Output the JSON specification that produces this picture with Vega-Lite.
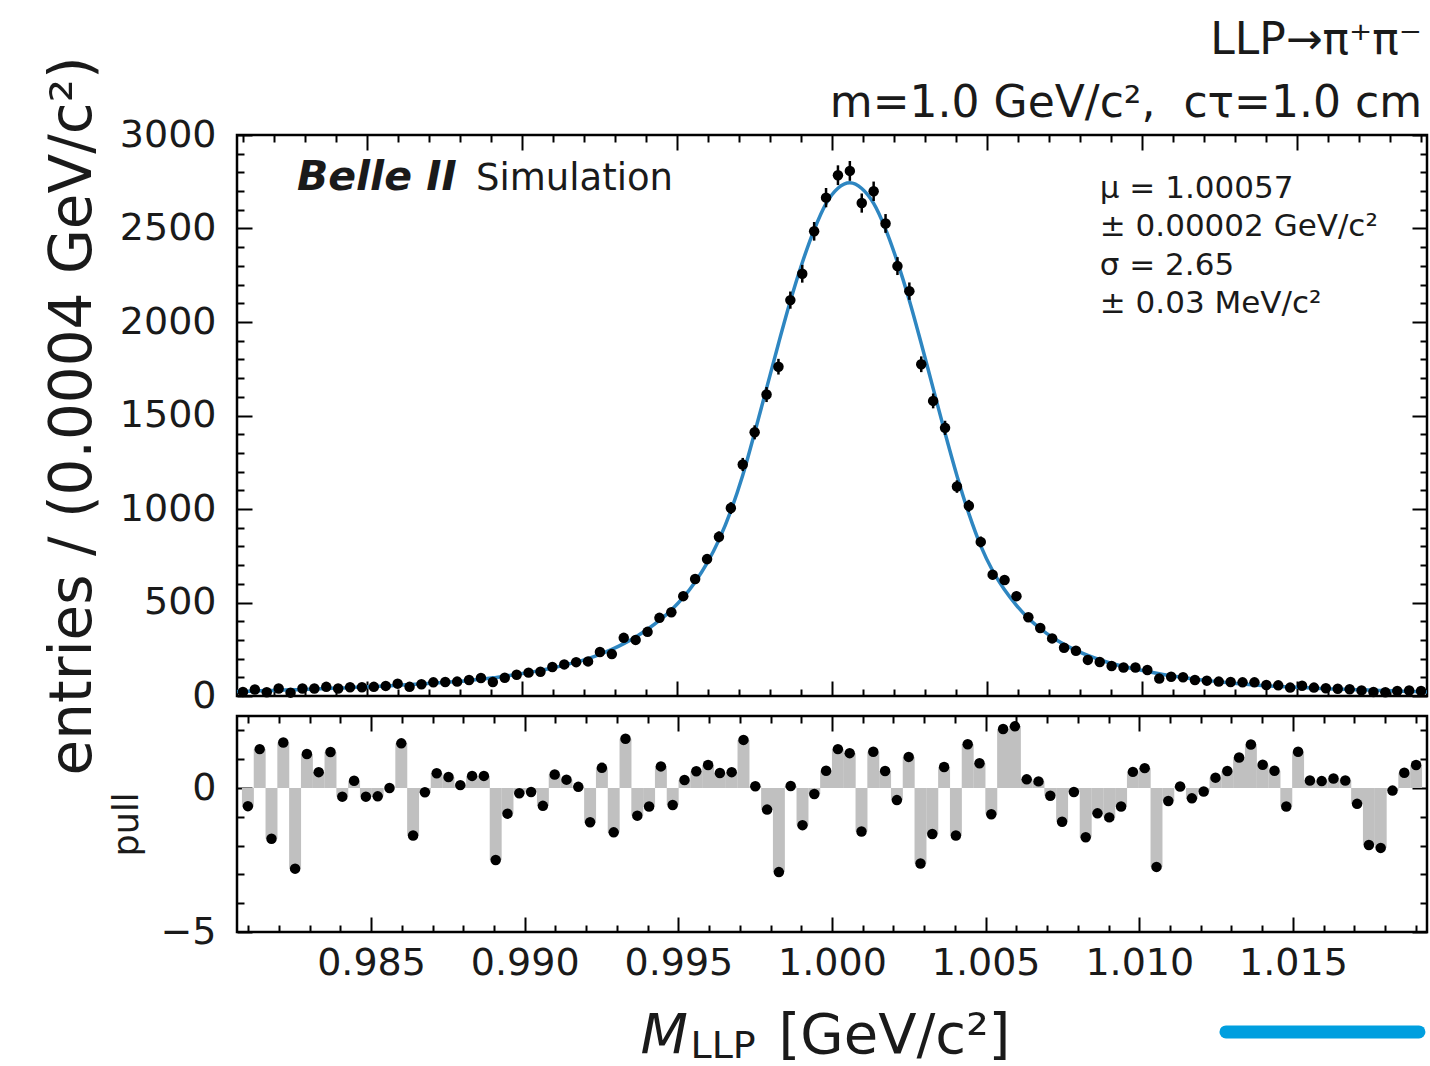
{
"$schema": "https://vega.github.io/schema/vega-lite/v6.json",
"padding": {"left": 42, "top": 17, "right": 0, "bottom": 0},
"background": "white",
"datasets": {
"hist": [
{"m":0.980992,"n":22,"err":4.7,"pull":-0.63},
{"m":0.981376,"n":35,"err":5.9,"pull":1.35},
{"m":0.98176,"n":20,"err":4.5,"pull":-1.76},
{"m":0.982144,"n":40,"err":6.3,"pull":1.58},
{"m":0.982528,"n":18,"err":4.2,"pull":-2.8},
{"m":0.982912,"n":40,"err":6.3,"pull":1.18},
{"m":0.983296,"n":40,"err":6.3,"pull":0.55},
{"m":0.98368,"n":49,"err":7,"pull":1.25},
{"m":0.984064,"n":40,"err":6.3,"pull":-0.3},
{"m":0.984448,"n":47,"err":6.9,"pull":0.25},
{"m":0.984832,"n":47,"err":6.9,"pull":-0.3},
{"m":0.985216,"n":49,"err":7,"pull":-0.29},
{"m":0.9856,"n":54,"err":7.3,"pull":0},
{"m":0.985984,"n":66,"err":8.1,"pull":1.55},
{"m":0.986368,"n":49,"err":7,"pull":-1.65},
{"m":0.986752,"n":63,"err":7.9,"pull":-0.15},
{"m":0.987136,"n":73,"err":8.5,"pull":0.51},
{"m":0.98752,"n":75,"err":8.7,"pull":0.38},
{"m":0.987904,"n":77,"err":8.8,"pull":0.1},
{"m":0.988288,"n":86,"err":9.3,"pull":0.42},
{"m":0.988672,"n":96,"err":9.8,"pull":0.42},
{"m":0.989056,"n":75,"err":8.7,"pull":-2.5},
{"m":0.98944,"n":98,"err":9.9,"pull":-0.89},
{"m":0.989824,"n":114,"err":10.7,"pull":-0.18},
{"m":0.990208,"n":125,"err":11.2,"pull":-0.14},
{"m":0.990592,"n":130,"err":11.4,"pull":-0.62},
{"m":0.990976,"n":155,"err":12.4,"pull":0.47},
{"m":0.99136,"n":169,"err":13,"pull":0.29},
{"m":0.991744,"n":181,"err":13.5,"pull":0.04},
{"m":0.992128,"n":185,"err":13.6,"pull":-1.19},
{"m":0.992512,"n":235,"err":15.3,"pull":0.7},
{"m":0.992896,"n":224,"err":15,"pull":-1.54},
{"m":0.99328,"n":311,"err":17.6,"pull":1.71},
{"m":0.993664,"n":300,"err":17.3,"pull":-0.96},
{"m":0.994048,"n":343,"err":18.5,"pull":-0.64},
{"m":0.994432,"n":418,"err":20.4,"pull":0.75},
{"m":0.994816,"n":448,"err":21.2,"pull":-0.59},
{"m":0.9952,"n":534,"err":23.1,"pull":0.28},
{"m":0.995584,"n":626,"err":25,"pull":0.58},
{"m":0.995968,"n":732,"err":27.1,"pull":0.8},
{"m":0.996352,"n":851,"err":29.2,"pull":0.52},
{"m":0.996736,"n":1005,"err":31.7,"pull":0.55},
{"m":0.99712,"n":1238,"err":35.2,"pull":1.67},
{"m":0.997504,"n":1410,"err":37.5,"pull":0.06},
{"m":0.997888,"n":1612,"err":40.1,"pull":-0.75},
{"m":0.998272,"n":1761,"err":42,"pull":-2.92},
{"m":0.998656,"n":2117,"err":46,"pull":0.07},
{"m":0.99904,"n":2258,"err":47.5,"pull":-1.29},
{"m":0.999424,"n":2485,"err":49.8,"pull":-0.21},
{"m":0.999808,"n":2665,"err":51.6,"pull":0.6},
{"m":1.000192,"n":2785,"err":52.8,"pull":1.35},
{"m":1.000576,"n":2808,"err":53,"pull":1.21},
{"m":1.00096,"n":2636,"err":51.3,"pull":-1.51},
{"m":1.001344,"n":2699,"err":52,"pull":1.26},
{"m":1.001728,"n":2527,"err":50.3,"pull":0.59},
{"m":1.002112,"n":2299,"err":47.9,"pull":-0.42},
{"m":1.002496,"n":2165,"err":46.5,"pull":1.08},
{"m":1.00288,"n":1774,"err":42.1,"pull":-2.62},
{"m":1.003264,"n":1578,"err":39.7,"pull":-1.6},
{"m":1.003648,"n":1434,"err":37.9,"pull":0.73},
{"m":1.004032,"n":1120,"err":33.5,"pull":-1.65},
{"m":1.004416,"n":1017,"err":31.9,"pull":1.52},
{"m":1.0048,"n":824,"err":28.7,"pull":0.86},
{"m":1.005184,"n":649,"err":25.5,"pull":-0.91},
{"m":1.005568,"n":620,"err":24.9,"pull":2.05},
{"m":1.005952,"n":534,"err":23.1,"pull":2.14},
{"m":1.006336,"n":421,"err":20.5,"pull":0.3},
{"m":1.00672,"n":364,"err":19.1,"pull":0.23},
{"m":1.007104,"n":308,"err":17.5,"pull":-0.27},
{"m":1.007488,"n":258,"err":16.1,"pull":-1.17},
{"m":1.007872,"n":242,"err":15.6,"pull":-0.14},
{"m":1.008256,"n":193,"err":13.9,"pull":-1.71},
{"m":1.00864,"n":182,"err":13.5,"pull":-0.88},
{"m":1.009024,"n":160,"err":12.6,"pull":-1.02},
{"m":1.009408,"n":152,"err":12.3,"pull":-0.64},
{"m":1.009792,"n":152,"err":12.3,"pull":0.56},
{"m":1.010176,"n":139,"err":11.8,"pull":0.69},
{"m":1.01056,"n":93,"err":9.6,"pull":-2.74},
{"m":1.010944,"n":103,"err":10.1,"pull":-0.45},
{"m":1.011328,"n":100,"err":10,"pull":0.05},
{"m":1.011712,"n":86,"err":9.3,"pull":-0.36},
{"m":1.012096,"n":82,"err":9.1,"pull":-0.12},
{"m":1.01248,"n":77,"err":8.8,"pull":0.36},
{"m":1.012864,"n":75,"err":8.7,"pull":0.59},
{"m":1.013248,"n":73,"err":8.5,"pull":1.06},
{"m":1.013632,"n":73,"err":8.5,"pull":1.51},
{"m":1.014016,"n":59,"err":7.7,"pull":0.81},
{"m":1.0144,"n":57,"err":7.5,"pull":0.6},
{"m":1.014784,"n":45,"err":6.7,"pull":-0.64},
{"m":1.015168,"n":55,"err":7.4,"pull":1.26},
{"m":1.015552,"n":45,"err":6.7,"pull":0.26},
{"m":1.015936,"n":41,"err":6.4,"pull":0.24},
{"m":1.01632,"n":39,"err":6.2,"pull":0.33},
{"m":1.016704,"n":36,"err":6,"pull":0.26},
{"m":1.017088,"n":30,"err":5.5,"pull":-0.55},
{"m":1.017472,"n":21,"err":4.6,"pull":-1.98},
{"m":1.017856,"n":20,"err":4.5,"pull":-2.08},
{"m":1.01824,"n":27,"err":5.2,"pull":-0.09},
{"m":1.018624,"n":29,"err":5.4,"pull":0.53},
{"m":1.019008,"n":27,"err":5.2,"pull":0.8}
],
"fit": [
{"m":0.9808,"f":24},
{"m":0.980992,"f":25},{"m":0.981376,"f":27},{"m":0.98176,"f":29},{"m":0.982144,"f":31},{"m":0.982528,"f":33},
{"m":0.982912,"f":35},{"m":0.983296,"f":37},{"m":0.98368,"f":40},{"m":0.984064,"f":42},{"m":0.984448,"f":45},
{"m":0.984832,"f":48},{"m":0.985216,"f":51},{"m":0.9856,"f":54},{"m":0.985984,"f":57},{"m":0.986368,"f":61},
{"m":0.986752,"f":65},{"m":0.987136,"f":69},{"m":0.98752,"f":73},{"m":0.987904,"f":77},{"m":0.988288,"f":83},
{"m":0.988672,"f":90},{"m":0.989056,"f":97},{"m":0.98944,"f":106},{"m":0.989824,"f":116},{"m":0.990208,"f":126},
{"m":0.990592,"f":137},{"m":0.990976,"f":150},{"m":0.99136,"f":165},{"m":0.991744,"f":181},{"m":0.992128,"f":200},
{"m":0.992512,"f":223},{"m":0.992896,"f":249},{"m":0.99328,"f":280},{"m":0.993664,"f":316},{"m":0.994048,"f":357},
{"m":0.994432,"f":404},{"m":0.994816,"f":460},{"m":0.9952,"f":527},{"m":0.995584,"f":610},{"m":0.995968,"f":710},
{"m":0.996352,"f":835},{"m":0.996736,"f":990},{"m":0.99712,"f":1180},{"m":0.997504,"f":1408},{"m":0.997888,"f":1645},
{"m":0.998272,"f":1884},{"m":0.998656,"f":2112},{"m":0.99904,"f":2317},{"m":0.999424,"f":2493},{"m":0.999808,"f":2633},
{"m":1.000192,"f":2715},{"m":1.000576,"f":2744},{"m":1.00096,"f":2714},{"m":1.001344,"f":2634},{"m":1.001728,"f":2497},
{"m":1.002112,"f":2320},{"m":1.002496,"f":2115},{"m":1.00288,"f":1885},{"m":1.003264,"f":1645},{"m":1.003648,"f":1406},
{"m":1.004032,"f":1178},{"m":1.004416,"f":975},{"m":1.0048,"f":803},{"m":1.005184,"f":670},{"m":1.005568,"f":568},
{"m":1.005952,"f":485},{"m":1.006336,"f":416},{"m":1.00672,"f":361},{"m":1.007104,"f":314},{"m":1.007488,"f":276},
{"m":1.007872,"f":244},{"m":1.008256,"f":217},{"m":1.00864,"f":194},{"m":1.009024,"f":174},{"m":1.009408,"f":158},
{"m":1.009792,"f":144},{"m":1.010176,"f":131},{"m":1.01056,"f":119},{"m":1.010944,"f":108},{"m":1.011328,"f":99},
{"m":1.011712,"f":90},{"m":1.012096,"f":83},{"m":1.01248,"f":76},{"m":1.012864,"f":70},{"m":1.013248,"f":64},
{"m":1.013632,"f":59},{"m":1.014016,"f":55},{"m":1.0144,"f":51},{"m":1.014784,"f":48},{"m":1.015168,"f":45},
{"m":1.015552,"f":42},{"m":1.015936,"f":39},{"m":1.01632,"f":37},{"m":1.016704,"f":35},{"m":1.017088,"f":33},
{"m":1.017472,"f":31},{"m":1.017856,"f":29},{"m":1.01824,"f":27},{"m":1.018624,"f":25},{"m":1.019008,"f":23},
{"m":1.0192,"f":22}
]
},
"config": {
"font": "DejaVu Sans",
"view": {"stroke": "black", "strokeWidth": 2.5},
"axis": {"domain": false, "grid": false, "tickColor": "black", "tickWidth": 2, "labelFont": "DejaVu Sans", "labelFontSize": 38, "labelColor": "#1a1a1a", "titleFont": "DejaVu Sans", "titleColor": "#1a1a1a", "titleFontWeight": "normal", "labelOverlap": false, "labelFlush": false, "zindex": 1},
"title": {"font": "DejaVu Sans", "color": "#1a1a1a", "subtitleFont": "DejaVu Sans", "subtitleColor": "#1a1a1a"}
},
"spacing": 20,
"bounds": "flush",
"vconcat": [
{
"width": 1190, "height": 561,
"title": {"text": "LLP→π⁺π⁻", "subtitle": "m=1.0 GeV/c², \u00a0cτ=1.0 cm", "anchor": "end", "frame": "group", "fontSize": 44, "fontWeight": "normal", "subtitleFontSize": 44, "subtitlePadding": 19, "offset": -70, "dx": -5},
"resolve": {"axis": {"x": "independent", "y": "independent"}},
"layer": [
{"data": {"name": "fit"}, "mark": {"type": "line", "color": "#2e86c1", "strokeWidth": 3.5, "interpolate": "monotone"},
 "encoding": {
  "x": {"field": "m", "type": "quantitative", "scale": {"domain": [0.9808, 1.0192], "nice": false, "zero": false},
        "axis": {"orient": "bottom", "labels": false, "tickSize": -15, "values": [0.985, 0.99, 0.995, 1.0, 1.005, 1.01, 1.015], "title": null}},
  "y": {"field": "f", "type": "quantitative", "scale": {"domain": [0, 3000], "nice": false},
        "axis": {"orient": "left", "ticks": false, "labelPadding": 21, "format": "d", "values": [0, 500, 1000, 1500, 2000, 2500, 3000],
                 "title": "entries / (0.0004 GeV/c²)", "titleFontSize": 58, "titleAngle": -90, "titleX": -147, "titleY": 280.5, "titleAlign": "center", "titleBaseline": "alphabetic"}}
 }},
{"data": {"name": "hist"}, "mark": {"type": "errorbar", "color": "black", "thickness": 2.5},
 "encoding": {
  "x": {"field": "m", "type": "quantitative", "axis": null},
  "y": {"field": "n", "type": "quantitative", "axis": null},
  "yError": {"field": "err"}
 }},
{"data": {"name": "hist"}, "mark": {"type": "circle", "color": "black", "size": 110, "opacity": 1},
 "encoding": {
  "x": {"field": "m", "type": "quantitative", "axis": {"orient": "bottom", "labels": false, "tickSize": -7, "title": null, "values": [0.981,0.982,0.983,0.984,0.986,0.987,0.988,0.989,0.991,0.992,0.993,0.994,0.996,0.997,0.998,0.999,1.001,1.002,1.003,1.004,1.006,1.007,1.008,1.009,1.011,1.012,1.013,1.014,1.016,1.017,1.018,1.019]}},
  "y": {"field": "n", "type": "quantitative", "axis": {"orient": "left", "labels": false, "tickSize": -15, "title": null, "values": [0, 500, 1000, 1500, 2000, 2500, 3000]}}
 }},
{"data": {"name": "hist"}, "mark": {"type": "circle", "opacity": 0},
 "encoding": {
  "x": {"field": "m", "type": "quantitative", "axis": {"orient": "top", "labels": false, "tickSize": -15, "title": null, "values": [0.985, 0.99, 0.995, 1.0, 1.005, 1.01, 1.015]}},
  "y": {"field": "n", "type": "quantitative", "axis": {"orient": "left", "labels": false, "tickSize": -7, "title": null, "values": [100,200,300,400,600,700,800,900,1100,1200,1300,1400,1600,1700,1800,1900,2100,2200,2300,2400,2600,2700,2800,2900]}}
 }},
{"data": {"name": "hist"}, "mark": {"type": "circle", "opacity": 0},
 "encoding": {
  "x": {"field": "m", "type": "quantitative", "axis": {"orient": "top", "labels": false, "tickSize": -7, "title": null, "values": [0.981,0.982,0.983,0.984,0.986,0.987,0.988,0.989,0.991,0.992,0.993,0.994,0.996,0.997,0.998,0.999,1.001,1.002,1.003,1.004,1.006,1.007,1.008,1.009,1.011,1.012,1.013,1.014,1.016,1.017,1.018,1.019]}},
  "y": {"field": "n", "type": "quantitative", "axis": {"orient": "right", "labels": false, "tickSize": -15, "title": null, "values": [0, 500, 1000, 1500, 2000, 2500, 3000]}}
 }},
{"data": {"name": "hist"}, "mark": {"type": "circle", "opacity": 0},
 "encoding": {
  "x": {"field": "m", "type": "quantitative", "axis": null},
  "y": {"field": "n", "type": "quantitative", "axis": {"orient": "right", "labels": false, "tickSize": -7, "title": null, "values": [100,200,300,400,600,700,800,900,1100,1200,1300,1400,1600,1700,1800,1900,2100,2200,2300,2400,2600,2700,2800,2900]}}
 }},
{"data": {"values": [{}]}, "mark": {"type": "text", "text": "Belle II", "fontSize": 41, "fontWeight": "bold", "fontStyle": "italic", "align": "left", "baseline": "alphabetic", "color": "#1a1a1a"},
 "encoding": {
  "x": {"datum": 0.982735, "type": "quantitative", "axis": null},
  "y": {"datum": 2706, "type": "quantitative", "axis": null}
 }},
{"data": {"values": [{}]}, "mark": {"type": "text", "text": "Simulation", "fontSize": 37, "align": "left", "baseline": "alphabetic", "color": "#1a1a1a"},
 "encoding": {
  "x": {"datum": 0.98851, "type": "quantitative", "axis": null},
  "y": {"datum": 2706, "type": "quantitative", "axis": null}
 }},
{"data": {"values": [{}]}, "mark": {"type": "text", "text": ["μ = 1.00057", "± 0.00002 GeV/c²", "σ = 2.65", "± 0.03 MeV/c²"], "fontSize": 31, "lineHeight": 38.5, "align": "left", "baseline": "alphabetic", "color": "#1a1a1a"},
 "encoding": {
  "x": {"datum": 1.00864, "type": "quantitative", "axis": null},
  "y": {"datum": 2665, "type": "quantitative", "axis": null}
 }}
]
},
{
"width": 1190, "height": 216,
"resolve": {"axis": {"x": "independent", "y": "independent"}},
"layer": [
{"data": {"name": "hist"}, "mark": {"type": "bar", "color": "#c0c0c0", "width": 11.95},
 "encoding": {
  "x": {"field": "m", "type": "quantitative", "scale": {"domain": [0.9808, 1.0192], "nice": false, "zero": false},
        "axis": {"orient": "bottom", "ticks": false, "labelPadding": 12, "format": ".3f", "values": [0.985, 0.99, 0.995, 1.0, 1.005, 1.01, 1.015],
                 "title": "M", "titleFontSize": 55, "titleFontStyle": "italic", "titleX": 403, "titleY": 120, "titleAlign": "left", "titleBaseline": "alphabetic"}},
  "y": {"field": "pull", "type": "quantitative", "scale": {"domain": [-5, 2.5], "nice": false},
        "axis": {"orient": "left", "ticks": false, "labelPadding": 21, "values": [-5, 0],
                 "title": "pull", "titleFontSize": 35, "titleAngle": -90, "titleX": -100, "titleY": 108, "titleAlign": "center", "titleBaseline": "alphabetic"}}
 }},
{"data": {"name": "hist"}, "mark": {"type": "circle", "color": "black", "size": 110, "opacity": 1},
 "encoding": {
  "x": {"field": "m", "type": "quantitative", "axis": {"orient": "bottom", "labels": false, "tickSize": -15, "values": [0.985, 0.99, 0.995, 1.0, 1.005, 1.01, 1.015],
        "title": "LLP", "titleFontSize": 38, "titleX": 453, "titleY": 125, "titleAlign": "left", "titleBaseline": "alphabetic"}},
  "y": {"field": "pull", "type": "quantitative", "axis": {"orient": "left", "labels": false, "tickSize": -15, "values": [-5, 0], "title": null}}
 }},
{"data": {"name": "hist"}, "mark": {"type": "circle", "opacity": 0},
 "encoding": {
  "x": {"field": "m", "type": "quantitative", "axis": {"orient": "bottom", "labels": false, "tickSize": -7, "values": [0.981,0.982,0.983,0.984,0.986,0.987,0.988,0.989,0.991,0.992,0.993,0.994,0.996,0.997,0.998,0.999,1.001,1.002,1.003,1.004,1.006,1.007,1.008,1.009,1.011,1.012,1.013,1.014,1.016,1.017,1.018,1.019],
        "title": "[GeV/c²]", "titleFontSize": 56, "titleX": 541, "titleY": 120, "titleAlign": "left", "titleBaseline": "alphabetic"}},
  "y": {"field": "pull", "type": "quantitative", "axis": {"orient": "left", "labels": false, "tickSize": -7, "values": [-4, -3, -2, -1, 1, 2], "title": null}}
 }},
{"data": {"name": "hist"}, "mark": {"type": "circle", "opacity": 0},
 "encoding": {
  "x": {"field": "m", "type": "quantitative", "axis": {"orient": "top", "labels": false, "tickSize": -15, "values": [0.985, 0.99, 0.995, 1.0, 1.005, 1.01, 1.015], "title": null}},
  "y": {"field": "pull", "type": "quantitative", "axis": {"orient": "right", "labels": false, "tickSize": -15, "values": [-5, 0], "title": null}}
 }},
{"data": {"name": "hist"}, "mark": {"type": "circle", "opacity": 0},
 "encoding": {
  "x": {"field": "m", "type": "quantitative", "axis": {"orient": "top", "labels": false, "tickSize": -7, "values": [0.981,0.982,0.983,0.984,0.986,0.987,0.988,0.989,0.991,0.992,0.993,0.994,0.996,0.997,0.998,0.999,1.001,1.002,1.003,1.004,1.006,1.007,1.008,1.009,1.011,1.012,1.013,1.014,1.016,1.017,1.018,1.019], "title": null}},
  "y": {"field": "pull", "type": "quantitative", "axis": {"orient": "right", "labels": false, "tickSize": -7, "values": [-4, -3, -2, -1, 1, 2], "title": null}}
 }},
{"data": {"values": [{}]}, "mark": {"type": "rule", "color": "#009fdf", "strokeWidth": 13, "strokeCap": "round", "clip": false},
 "encoding": {
  "x": {"datum": 1.01282, "type": "quantitative", "axis": null},
  "x2": {"datum": 1.0191},
  "y": {"datum": -8.47, "type": "quantitative", "axis": null}
 }}
]
}
]
}
